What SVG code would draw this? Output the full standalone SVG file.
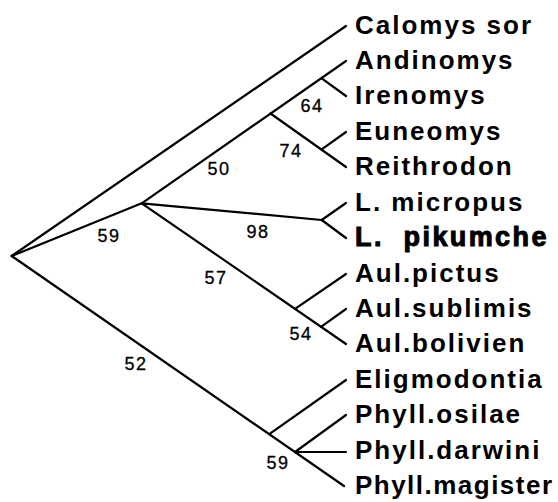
<svg xmlns="http://www.w3.org/2000/svg" width="558" height="502" viewBox="0 0 558 502">
<style>
.e{stroke:#000;stroke-width:2.2;fill:none;stroke-linecap:round;stroke-linejoin:round}
.t{font-family:"Liberation Sans",Arial,sans-serif;font-weight:bold;font-size:26px;letter-spacing:2px;fill:#000}
.n{font-family:"Liberation Sans",Arial,sans-serif;font-size:18px;letter-spacing:1.5px;fill:#000;stroke:#000;stroke-width:0.3;text-anchor:middle}
</style>
<rect width="558" height="502" fill="#fff"/>
<g id="connectors" class="e">
<line x1="11.7" y1="256" x2="346" y2="26"/>
<line x1="11.7" y1="256" x2="141.7" y2="203.3"/>
<line x1="141.7" y1="203.3" x2="346" y2="61"/>
<line x1="270.5" y1="113.5" x2="346" y2="167"/>
<line x1="321.7" y1="78.3" x2="346" y2="96"/>
<line x1="321.7" y1="149.3" x2="346" y2="132"/>
<line x1="141.7" y1="203.3" x2="321.7" y2="220"/>
<line x1="321.7" y1="220" x2="346" y2="203"/>
<line x1="321.7" y1="220" x2="346" y2="238"/>
<line x1="141.7" y1="203.3" x2="346" y2="344"/>
<line x1="295" y1="308.8" x2="346" y2="274"/>
<line x1="321" y1="326.8" x2="346" y2="309"/>
<line x1="11.7" y1="256" x2="344" y2="486"/>
<line x1="269.3" y1="434.2" x2="346" y2="380"/>
<line x1="295" y1="452" x2="346" y2="415"/>
<line x1="295" y1="452" x2="346" y2="452"/>
</g>
<g id="support">
<text class="n" x="312" y="112">64</text>
<text class="n" x="291" y="157">74</text>
<text class="n" x="219" y="175">50</text>
<text class="n" x="109" y="242">59</text>
<text class="n" x="258" y="238">98</text>
<text class="n" x="216" y="284">57</text>
<text class="n" x="136" y="370">52</text>
<text class="n" x="301" y="340">54</text>
<text class="n" x="278" y="469">59</text>
</g>
<g id="taxa">
<g id="t1"><text class="t" x="355" y="34">Calomys sor</text></g>
<g id="t2"><text class="t" x="355" y="69">Andinomys</text></g>
<g id="t3"><text class="t" x="355" y="104">Irenomys</text></g>
<g id="t4"><text class="t" x="355" y="140">Euneomys</text></g>
<g id="t5"><text class="t" x="355" y="175">Reithrodon</text></g>
<g id="t6"><text class="t" x="355" y="211">L. micropus</text></g>
<g id="t7"><text class="t" x="355" y="246" style="stroke:#000;stroke-width:1;font-size:27px;letter-spacing:2.4px" xml:space="preserve">L.  pikumche</text></g>
<g id="t8"><text class="t" x="355" y="282">Aul.pictus</text></g>
<g id="t9"><text class="t" x="355" y="317">Aul.sublimis</text></g>
<g id="t10"><text class="t" x="355" y="352">Aul.bolivien</text></g>
<g id="t11"><text class="t" x="355" y="388">Eligmodontia</text></g>
<g id="t12"><text class="t" x="355" y="423">Phyll.osilae</text></g>
<g id="t13"><text class="t" x="355" y="459">Phyll.darwini</text></g>
<g id="t14"><text class="t" x="355" y="494" textLength="199" lengthAdjust="spacing">Phyll.magister</text></g>
</g>
</svg>
